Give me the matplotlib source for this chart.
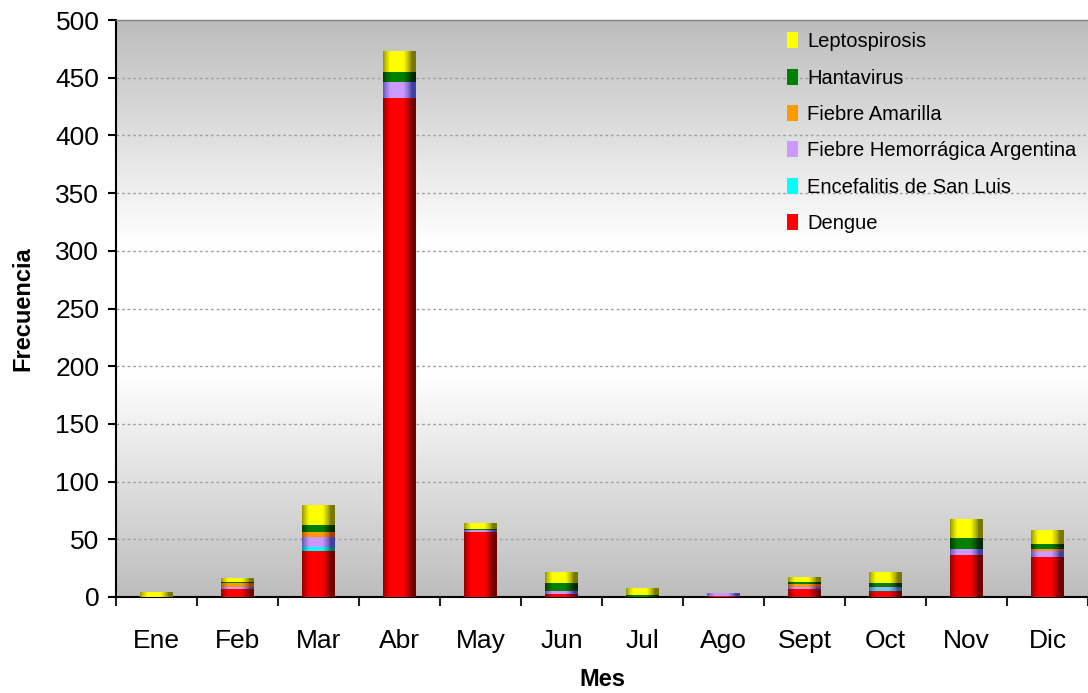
import numpy as np
import matplotlib
matplotlib.use("Agg")
import matplotlib.pyplot as plt
from matplotlib.colors import to_rgb

plt.rcParams['font.family'] = ['Liberation Sans', 'DejaVu Sans']

months = ["Ene", "Feb", "Mar", "Abr", "May", "Jun", "Jul", "Ago", "Sept", "Oct", "Nov", "Dic"]
series_names = ["Dengue", "Encefalitis de San Luis", "Fiebre Hemorrágica Argentina",
                "Fiebre Amarilla", "Hantavirus", "Leptospirosis"]
dengue        = [0, 7, 40, 432, 56, 3, 0, 1, 7, 5, 36, 35]
encefalitis   = [0, 0, 3, 0, 0, 0, 0, 0, 0, 2, 0, 0]
fha           = [0, 2, 9, 14, 2, 2, 0, 2, 2, 2, 6, 5]
amarilla      = [0, 3, 4, 0, 0, 0, 0, 0, 2, 0, 0, 2]
hantavirus    = [0, 1, 6, 9, 1, 7, 2, 0, 2, 3, 9, 4]
leptospirosis = [4, 3, 17, 18, 5, 9, 6, 0, 4, 9, 16, 12]
series_values = [dengue, encefalitis, fha, amarilla, hantavirus, leptospirosis]

bright = ["#ff0000", "#00ffff", "#cc99ff", "#ff9900", "#008000", "#ffff00"]
dark   = ["#700000", "#007070", "#4040a0", "#a04000", "#002800", "#787800"]

fig = plt.figure(figsize=(10.88, 6.93), dpi=100)
ax = fig.add_axes([116/1088, 1-597/693, 1-116/1088, (597-20)/693])

# background gradient
yy = np.linspace(0, 1, 256)
g = 1 - np.abs(yy - 0.5) * 2
g = np.clip(g * 1.3, 0, 1)
top_c = np.array([0.74, 0.74, 0.74])
bg = top_c[None, :] + (1 - top_c[None, :]) * g[:, None]
bg_img = np.repeat(bg[:, None, :], 2, axis=1)
ax.imshow(bg_img, extent=[0, 1, 0, 1], transform=ax.transAxes, aspect='auto',
          zorder=0, origin='lower', interpolation='bilinear')

x = np.arange(len(months))
width = 0.4
xs = np.linspace(0, 1, 64)
prof = np.clip(1 - np.abs(xs - 0.42) / 0.45, 0, 1) ** 0.7
prof = np.clip(prof * 1.5, 0, 1)

def shade_img(c_bright, c_dark):
    b = np.array(to_rgb(c_bright)); d = np.array(to_rgb(c_dark))
    row = d[None, :] + (b - d)[None, :] * prof[:, None]
    return row[None, :, :]

bottom = np.zeros(len(months))
handles = []
for vals, name, cb, cd in zip(series_values, series_names, bright, dark):
    vals = np.array(vals, dtype=float)
    bars = ax.bar(x, vals, width, bottom=bottom, color=cb, label=name, zorder=2, linewidth=0)
    img = shade_img(cb, cd)
    for p in bars.patches:
        if p.get_height() <= 0:
            continue
        x0, y0 = p.get_x(), p.get_y()
        ax.imshow(img, extent=[x0, x0 + p.get_width(), y0, y0 + p.get_height()],
                  aspect='auto', zorder=3, interpolation='bilinear')
    handles.append(bars)
    bottom += vals

ax.set_xlim(-0.5, len(months) - 0.5)
ax.set_ylim(0, 500)
ax.set_yticks(np.arange(0, 501, 50))
ax.yaxis.grid(True, color="#a0a0a0", linestyle=(0, (2, 2)), linewidth=1)
for gl in ax.yaxis.get_gridlines():
    gl.set_zorder(1)

ax.set_xticks(x)
ax.set_xticklabels(months)
ax.set_xticks(np.arange(-0.5, len(months)), minor=True)
ax.tick_params(axis='x', which='major', length=0, pad=23, labelsize=19)
ax.tick_params(axis='x', which='minor', length=6.5, width=1.5, direction='out', color='#222222')
ax.tick_params(axis='y', which='major', length=6, width=1.5, direction='out', pad=6, labelsize=19)

ax.spines['left'].set_linewidth(1.5)
ax.spines['bottom'].set_linewidth(1.5)
ax.spines['top'].set_color('#808080')
ax.spines['top'].set_linewidth(1)
ax.spines['right'].set_visible(False)

ax.set_ylabel("Frecuencia", fontsize=17, fontweight='bold', labelpad=15)
ax.set_xlabel("Mes", fontsize=17, fontweight='bold', labelpad=11)

leg = ax.legend(handles[::-1], series_names[::-1], loc='upper left',
                bbox_to_anchor=(0.672, 1.01), frameon=False, fontsize=14.5,
                handlelength=0.55, handleheight=0.85, handletextpad=0.45, labelspacing=0.86)

fig.savefig("out.png", dpi=100)
